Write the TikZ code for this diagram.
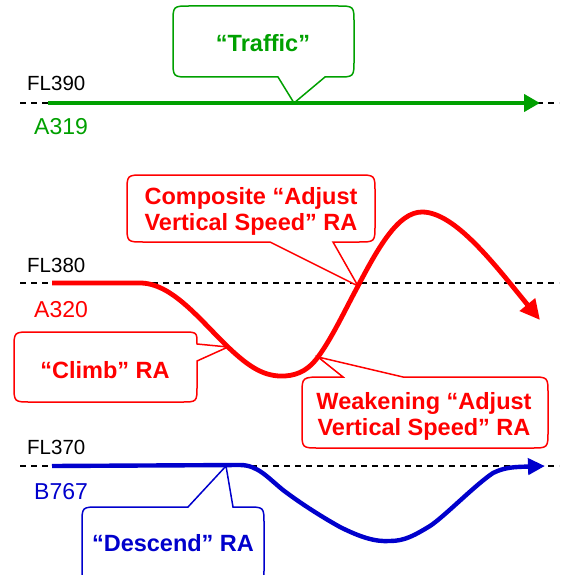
\documentclass[tikz,border=0pt]{standalone}
\usepackage{fontspec}
\setmainfont{Liberation Sans}
\usetikzlibrary{arrows.meta}
\definecolor{cgreen}{RGB}{0,160,0}
\definecolor{cred}{RGB}{255,0,0}
\definecolor{cblue}{RGB}{0,0,204}
\begin{document}
\begin{tikzpicture}[x=1pt,y=-1pt,
  level/.style={black, line width=1.6pt, dash pattern=on 6pt off 5pt},
  fl/.style={font=\fontsize{20.5}{24}\selectfont, inner sep=0pt, anchor=west},
  ac/.style={font=\fontsize{23}{27}\selectfont, inner sep=0pt, anchor=west},
  ctext/.style={font=\bfseries\fontsize{23.5}{26}\selectfont, align=center, inner sep=0pt},
  cbox/.style={line width=1.5pt, fill=white, draw=#1},
  track/.style={line width=4.8pt}]
\useasboundingbox (0,0) rectangle (568,575);
\clip (0,0) rectangle (568,575);

% flight level lines
\coordinate (l390a) at (20,103); \coordinate (l390b) at (559,103);
\coordinate (l380a) at (20,283); \coordinate (l380b) at (559,283);
\coordinate (l370a) at (20,466); \coordinate (l370b) at (559,466);
\draw[level] (l390a) -- (l390b);
\draw[level] (l380a) -- (l380b);
\draw[level] (l370a) -- (l370b);

\node[fl] (fl390) at (27,83) {FL390};
\node[fl] (fl380) at (27,265) {FL380};
\node[fl] (fl370) at (27,447) {FL370};
\node[ac, text=cgreen] (a319) at (34,127) {A319};
\node[ac, text=cred] (a320) at (34,310) {A320};
\node[ac, text=cblue] (b767) at (34,492) {B767};

% key points on tracks
\coordinate (ttip) at (294,103);
\coordinate (ctip) at (228,347);
\coordinate (wtip) at (318,357);
\coordinate (comptip) at (358,286);
\coordinate (dtip) at (226,466);

% callouts
\draw[cbox=cgreen] (ttip) -- (325,77) -- (337,77) .. controls (354,77) .. (354,60) -- (354,23) .. controls (354,6) .. (337,6) -- (190,6) .. controls (173,6) .. (173,23) -- (173,60) .. controls (173,77) .. (190,77) -- (278,77) -- cycle;
\node[ctext, text=cgreen] (traffic) at (263,43) {“Traffic”};

\draw[cbox=cred] (comptip) -- (270,242) -- (144,242) .. controls (127,242) .. (127,225) -- (127,192) .. controls (127,175) .. (144,175) -- (358,175) .. controls (375,175) .. (375,192) -- (375,225) .. controls (375,242) .. (358,242) -- (333,242) -- cycle;
\node[ctext, text=cred] (composite) at (251,211) {Composite “Adjust\\Vertical Speed” RA};

\draw[cbox=cred] (ctip) -- (197,361) -- (197,386) .. controls (197,402) .. (181,402) -- (31,402) .. controls (14,402) .. (14,385) -- (14,349) .. controls (14,332) .. (31,332) -- (182,332) .. controls (197,332) .. (197,344) -- cycle;
\node[ctext, text=cred] (climb) at (105,370) {“Climb” RA};

\draw[cbox=cred] (wtip) -- (403,377) -- (531,377) .. controls (548,377) .. (548,394) -- (548,431) .. controls (548,448) .. (531,448) -- (319,448) .. controls (302,448) .. (302,431) -- (302,394) .. controls (302,377) .. (324,377) -- (343,377) -- cycle;
\node[ctext, text=cred] (weak) at (424,416) {Weakening “Adjust\\Vertical Speed” RA};

\draw[cbox=cblue] (dtip) -- (233,507) -- (247,507) .. controls (264,507) .. (264,524) -- (264,568) .. controls (264,585) .. (247,585) -- (99,585) .. controls (82,585) .. (82,568) -- (82,524) .. controls (82,507) .. (99,507) -- (188,507) -- cycle;
\node[ctext, text=cblue] (descend) at (173,543) {“Descend” RA};

% tracks
\coordinate (g0) at (48,103); \coordinate (g1) at (540,103);
\draw[track, line width=4.2pt, cgreen, -{Triangle[length=16pt,width=17pt]}] (g0) -- (g1);

\coordinate (r0) at (52,283); \coordinate (r1) at (140,283);
\coordinate (rmin) at (285,376); \coordinate (rpeak) at (422,212); \coordinate (rend) at (540,320);
\draw[track, cred, -{Triangle[length=20pt,width=19pt]}] (r0) -- (r1)
  .. controls (172,283) and (200,320) .. (ctip)
  .. controls (250,368) and (265,377) .. (rmin)
  .. controls (300,375) and (310,368) .. (wtip)
  .. controls (332,338) and (345,310) .. (comptip)
  .. controls (378,248) and (398,212) .. (rpeak)
  .. controls (455,212) and (495,265) .. (rend);

\coordinate (b0) at (52,466); \coordinate (b1) at (240,465);
\coordinate (bmin) at (390,541); \coordinate (bend) at (545,466);
\draw[track, line width=4.4pt, cblue, -{Triangle[length=17pt,width=16pt]}] (b0) -- (b1)
  .. controls (258,465) and (268,478) .. (283,490)
  .. controls (300,503) and (322,517) .. (340,527)
  .. controls (360,537) and (375,542) .. (bmin)
  .. controls (405,541) and (415,535) .. (430,526)
  .. controls (445,516) and (475,485) .. (493,473)
  .. controls (505,467) and (515,467) .. (bend);
\end{tikzpicture}
\end{document}
